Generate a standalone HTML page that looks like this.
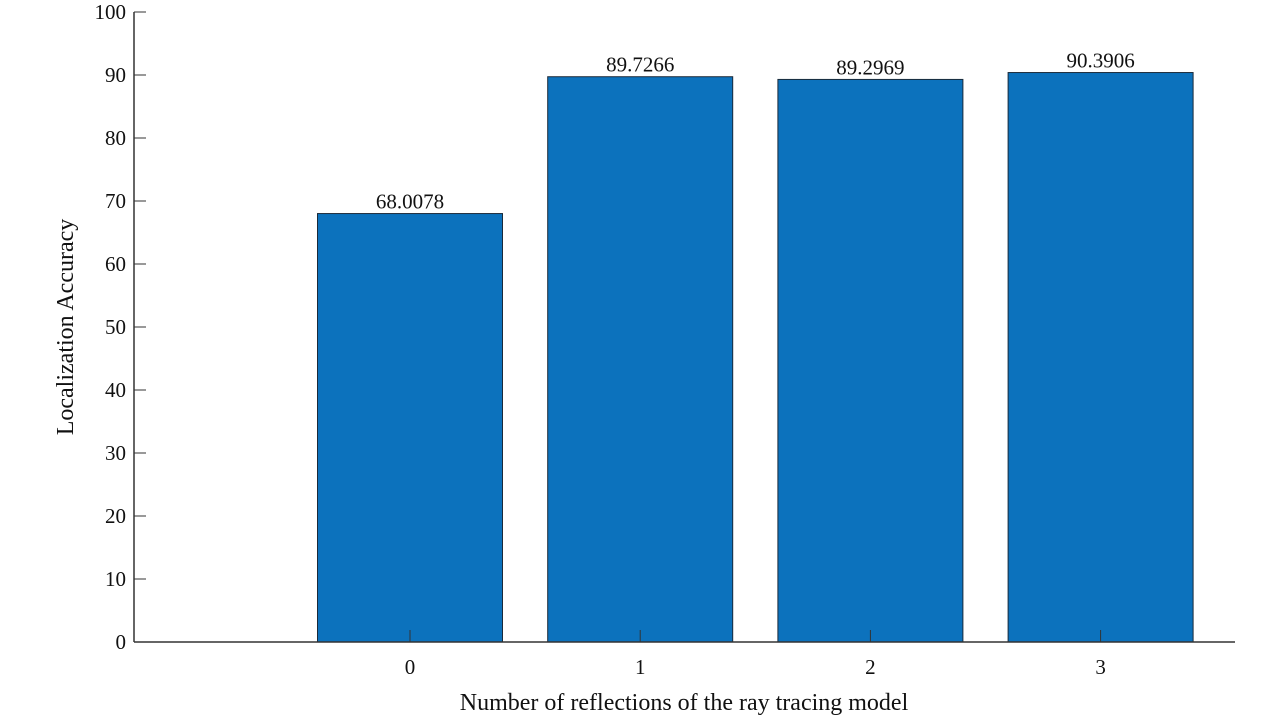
<!DOCTYPE html>
<html><head><meta charset="utf-8"><style>
body{margin:0;background:#fff}
svg text{font-family:"Liberation Serif",serif;fill:#111}
</style></head><body>
<svg id="chart" width="1280" height="721" xmlns="http://www.w3.org/2000/svg"></svg>
<script>
const categories=["0","1","2","3"];
const values=[68.0078,89.7266,89.2969,90.3906];
const valueLabels=["68.0078","89.7266","89.2969","90.3906"];
const yTicks=[0,10,20,30,40,50,60,70,80,90,100];
const svg=document.getElementById('chart');
const NS='http://www.w3.org/2000/svg';
const x0=134,x1=1235,y0=642,yTop=12;
const yS=v=>y0-(v/100)*(y0-yTop);
const xS=i=>410+i*230.2;
const bw=185;
function mk(t,a,txt){const e=document.createElementNS(NS,t);for(const k in a)e.setAttribute(k,a[k]);if(txt!==undefined)e.textContent=txt;svg.appendChild(e);return e;}
values.forEach((v,i)=>{
 const r=mk('rect',{x:xS(i)-bw/2,y:yS(v),width:bw,height:y0-yS(v),fill:'#0c72bd',stroke:'#1a2a3a','stroke-width':1});
 
 
 const t=mk('text',{x:xS(i),y:yS(v)-5,'text-anchor':'middle','font-size':21},valueLabels[i]);
 
 
 const tk=mk('line',{x1:xS(i),x2:xS(i),y1:y0,y2:y0-12,stroke:'#333','stroke-width':1});
 
 
 const tl=mk('text',{x:xS(i),y:y0+32,'text-anchor':'middle','font-size':21},categories[i]);
 
 
});
yTicks.forEach(v=>{
 const l=mk('line',{x1:x0,x2:x0+12,y1:yS(v),y2:yS(v),stroke:'#333','stroke-width':1});
 
 
 const t=mk('text',{x:x0-8,y:yS(v)+7,'text-anchor':'end','font-size':21},String(v));
 
 
});
const ax=mk('line',{x1:x0,x2:x0,y1:yTop,y2:y0,stroke:'#333','stroke-width':1.5});


const axx=mk('line',{x1:x0,x2:x1,y1:y0,y2:y0,stroke:'#333','stroke-width':1.5});


const xt=mk('text',{x:684,y:710,'text-anchor':'middle','font-size':24},'Number of reflections of the ray tracing model');


const yt=mk('text',{x:0,y:0,'text-anchor':'middle','font-size':24,transform:'translate(73,327) rotate(-90)'},'Localization Accuracy');


</script>
</body></html>
